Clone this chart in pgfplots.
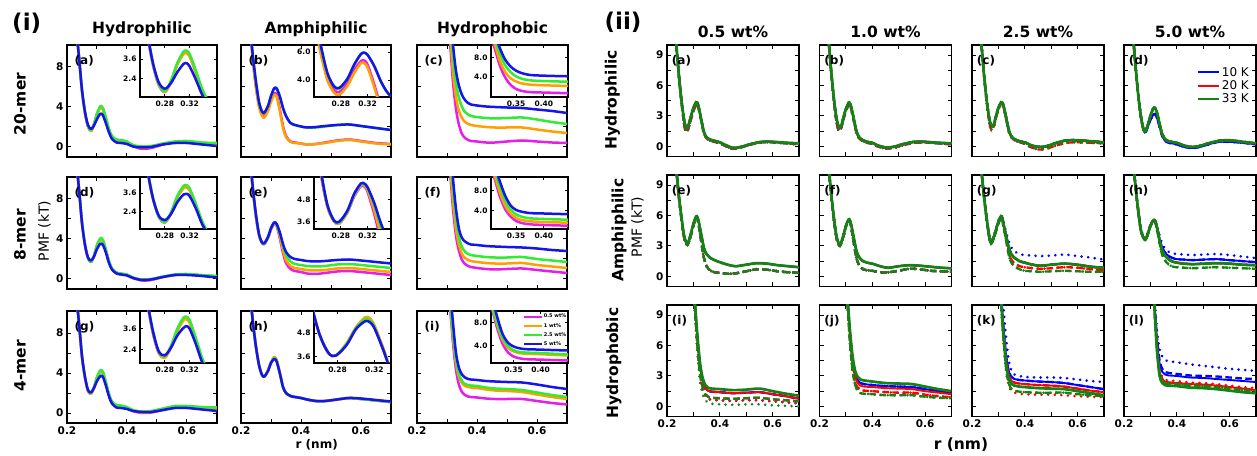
\documentclass[border=0pt]{standalone}
\usepackage{fontspec}
\setmainfont{DejaVu Sans}
\usepackage{pgfplots}
\usepackage{pgfplotstable}
\pgfplotsset{compat=1.18}

\definecolor{iMag}{RGB}{230,30,230}
\definecolor{iOra}{RGB}{255,160,0}
\definecolor{iGre}{RGB}{50,235,50}
\definecolor{iBlu}{RGB}{20,20,235}
\definecolor{colB}{RGB}{0,0,255}
\definecolor{colR}{RGB}{255,0,0}
\definecolor{colG}{RGB}{20,130,20}

\tikzset{plab/.style={anchor=north west, inner sep=0pt, font=\bfseries\fontsize{12}{13}\selectfont}}
\pgfplotsset{
  base/.style={scale only axis, anchor=north west, clip=true,
    xmin=0.2, xmax=0.7, xtick={0.2,0.3,0.4,0.5,0.6,0.7}, xticklabels={}, yticklabels={},
    axis line style={line width=1.5pt}, every tick/.style={black,line width=1pt},
    major tick length=4pt, tick align=inside,
    tick label style={font=\bfseries\fontsize{10.5}{11}\selectfont}},
  pA/.style={base, width=150pt, height=112pt, ymin=-1, ymax=10.2, ytick={0,2,4,6,8}},
  pB/.style={base, width=132pt, height=111.5pt, ymin=-1, ymax=10, ytick={0,1.5,3,4.5,6,7.5,9}},
  bot/.style={xticklabels={0.2,,0.4,,0.6,}},
  inset/.style={scale only axis, anchor=north east, width=77pt, height=52pt, clip=true,
    axis background/.style={fill=white}, axis line style={line width=1.3pt},
    every tick/.style={black,line width=0.8pt}, major tick length=3pt, tick align=inside,
    tick label style={font=\bfseries\fontsize{7.5}{8}\selectfont},
    xtick={0.28,0.32}, xticklabels={0.28,0.32}},
  hbin/.style={inset, xtick={0.35,0.40}, xticklabels={0.35,0.40}, ytick={4,8}, yticklabels={4.0,8.0}},
  iline/.style={line width=2.5pt, smooth, tension=0.5, line join=round},
  dotl/.style={line width=2.8pt, dash pattern=on 0.1pt off 6.5pt, line cap=round, smooth, tension=0.5},
  dshl/.style={line width=2.3pt, dash pattern=on 6.5pt off 3.5pt, smooth, tension=0.5},
  sw-colB/.style={line width=1.9pt, smooth, tension=0.5},
  sw-colR/.style={line width=1.9pt, smooth, tension=0.5},
  sw-colG/.style={line width=2.7pt, smooth, tension=0.5},
}

\newcommand{\fourc}[1]{%
  \addplot[iMag,iline] table[x=r,y=m]{#1};
  \addplot[iOra,iline] table[x=r,y=o]{#1};
  \addplot[iGre,iline] table[x=r,y=g]{#1};
  \addplot[iBlu,iline] table[x=r,y=b]{#1};}
% colour, table, dotted col, dashed col, solid col
\newcommand{\trio}[5]{%
  \addplot[#1,dotl] table[x=r,y=#3]{#2};
  \addplot[#1,dshl] table[x=r,y=#4]{#2};
  \addplot[#1,sw-#1] table[x=r,y=#5]{#2};}

% ---------- part (i) ----------
\pgfplotstableread{
r m o g b
0.230 12 12 12 12
0.240 9.0 9.0 9.0 9.0
0.250 5.6 5.6 5.7 5.7
0.260 3.4 3.4 3.5 3.5
0.270 2.05 2.05 2.1 2.2
0.280 1.6 1.6 1.65 1.8
0.290 2.25 2.2 2.3 2.15
0.300 3.3 3.25 3.35 2.8
0.310 3.95 3.9 4.05 3.3
0.315 4.0 3.95 4.1 3.35
0.320 3.8 3.75 3.9 3.15
0.330 2.8 2.75 2.9 2.35
0.340 1.7 1.65 1.8 1.45
0.350 1.0 1.0 1.1 0.8
0.365 0.65 0.65 0.75 0.45
0.380 0.6 0.6 0.7 0.4
0.400 0.45 0.45 0.55 0.3
0.420 0.1 0.15 0.2 0.05
0.450 -0.2 -0.1 0.05 -0.05
0.480 -0.1 0.0 0.1 0.0
0.520 0.25 0.3 0.35 0.25
0.560 0.5 0.5 0.55 0.4
0.600 0.55 0.5 0.6 0.4
0.650 0.4 0.4 0.45 0.25
0.700 0.3 0.3 0.4 0.1
}\tHa
\pgfplotstableread{
r m o g b
0.230 12 12 12 12
0.240 9.0 9.0 9.0 9.0
0.250 5.6 5.6 5.7 5.6
0.260 3.4 3.4 3.45 3.4
0.270 2.1 2.1 2.1 2.15
0.280 1.7 1.7 1.7 1.85
0.290 2.3 2.3 2.35 2.25
0.300 3.35 3.3 3.4 3.0
0.310 3.95 3.9 4.05 3.5
0.315 4.0 3.95 4.1 3.55
0.320 3.8 3.75 3.9 3.4
0.330 2.8 2.8 2.9 2.6
0.340 1.7 1.7 1.8 1.6
0.350 1.0 1.0 1.05 0.95
0.365 0.6 0.6 0.65 0.55
0.380 0.5 0.5 0.55 0.45
0.400 0.4 0.4 0.45 0.35
0.420 0.1 0.1 0.15 0.1
0.450 -0.15 -0.1 -0.05 -0.1
0.480 -0.1 -0.05 0.0 -0.05
0.520 0.2 0.2 0.25 0.2
0.560 0.4 0.4 0.45 0.4
0.600 0.45 0.45 0.5 0.4
0.650 0.35 0.35 0.4 0.3
0.700 0.25 0.25 0.3 0.15
}\tHd
\pgfplotstableread{
r m o g b
0.230 12 12 12 12
0.240 9.0 9.0 9.0 9.0
0.250 5.6 5.6 5.7 5.7
0.260 3.5 3.5 3.6 3.6
0.270 2.2 2.2 2.25 2.3
0.280 1.95 1.9 2.0 2.05
0.290 2.55 2.5 2.6 2.5
0.300 3.5 3.45 3.6 3.2
0.310 4.15 4.1 4.25 3.65
0.315 4.25 4.15 4.3 3.75
0.320 4.05 3.95 4.1 3.6
0.330 2.95 2.9 3.05 2.7
0.340 1.8 1.75 1.9 1.65
0.350 1.05 1.05 1.15 0.95
0.365 0.7 0.7 0.8 0.55
0.380 0.65 0.65 0.75 0.5
0.400 0.5 0.5 0.6 0.4
0.420 0.2 0.25 0.3 0.2
0.450 0.0 0.05 0.15 0.1
0.480 0.05 0.1 0.2 0.1
0.520 0.3 0.35 0.45 0.3
0.560 0.55 0.6 0.7 0.5
0.600 0.6 0.6 0.7 0.5
0.650 0.5 0.5 0.6 0.35
0.700 0.4 0.45 0.55 0.2
}\tHg
\pgfplotstableread{
r m o g b
0.230 12 12 12 12
0.240 8.6 8.5 9.0 9.0
0.250 6.0 5.9 6.5 6.5
0.260 4.2 4.0 4.5 4.5
0.270 3.3 3.1 3.55 3.55
0.278 3.15 2.95 3.4 3.45
0.290 3.8 3.6 4.1 4.1
0.300 4.7 4.5 5.1 5.1
0.310 5.35 5.2 5.85 5.85
0.315 5.4 5.2 5.95 5.95
0.320 5.1 4.9 5.8 5.8
0.330 3.7 3.5 5.0 5.0
0.340 2.1 1.9 3.9 3.9
0.350 1.1 1.0 3.1 3.1
0.365 0.55 0.5 2.4 2.4
0.380 0.45 0.4 2.2 2.2
0.400 0.35 0.35 2.05 2.05
0.420 0.25 0.25 1.95 1.95
0.450 0.3 0.3 1.95 2.0
0.480 0.45 0.4 2.05 2.1
0.520 0.65 0.6 2.2 2.2
0.560 0.75 0.7 2.25 2.25
0.600 0.6 0.55 2.1 2.1
0.650 0.4 0.35 1.9 1.9
0.700 0.3 0.25 1.7 1.7
}\tAb
\pgfplotstableread{
r m o g b
0.230 12 12 12 12
0.240 8.8 8.8 9.0 9.0
0.250 6.2 6.2 6.4 6.4
0.260 4.4 4.4 4.5 4.5
0.270 3.6 3.6 3.65 3.65
0.278 3.5 3.5 3.55 3.6
0.290 4.1 4.1 4.15 4.2
0.300 4.95 5.0 5.05 5.1
0.310 5.5 5.55 5.6 5.65
0.315 5.5 5.55 5.6 5.65
0.320 5.2 5.3 5.4 5.45
0.330 4.0 4.2 4.5 4.6
0.340 2.6 2.9 3.3 3.5
0.350 1.6 1.9 2.4 2.7
0.365 1.0 1.3 1.75 2.2
0.380 0.8 1.1 1.5 2.0
0.400 0.7 1.0 1.4 1.9
0.420 0.55 0.9 1.3 1.8
0.450 0.5 0.85 1.25 1.75
0.480 0.6 0.9 1.3 1.8
0.520 0.75 1.05 1.45 1.9
0.560 0.8 1.1 1.5 1.95
0.600 0.7 1.0 1.4 1.85
0.650 0.55 0.85 1.25 1.7
0.700 0.4 0.7 1.1 1.55
}\tAe
\pgfplotstableread{
r m o g b
0.230 12 12 12 12
0.240 9.0 9.0 9.0 9.0
0.250 6.6 6.6 6.6 6.6
0.260 4.8 4.8 4.8 4.8
0.270 3.8 3.8 3.8 3.8
0.278 3.65 3.65 3.65 3.65
0.290 4.25 4.3 4.25 4.2
0.300 5.05 5.1 5.05 5.0
0.310 5.5 5.6 5.5 5.4
0.315 5.45 5.55 5.45 5.35
0.320 5.1 5.2 5.1 5.05
0.330 3.9 4.0 3.9 3.9
0.340 2.6 2.65 2.6 2.6
0.350 2.0 2.0 2.0 2.0
0.365 1.7 1.7 1.7 1.7
0.380 1.6 1.6 1.6 1.6
0.400 1.5 1.5 1.5 1.5
0.420 1.35 1.35 1.35 1.35
0.450 1.2 1.2 1.2 1.2
0.480 1.2 1.2 1.2 1.2
0.520 1.35 1.35 1.35 1.35
0.560 1.5 1.5 1.5 1.5
0.600 1.4 1.4 1.4 1.45
0.650 1.25 1.25 1.25 1.3
0.700 1.1 1.1 1.1 1.15
}\tAh
\pgfplotstableread{
r m o g b
0.300 14 15 16 17
0.310 10.5 11.5 12.5 13.5
0.320 6.5 7.5 9.0 10.2
0.330 3.8 5.0 6.4 7.6
0.340 2.2 3.6 4.9 6.1
0.350 1.3 2.9 4.0 5.2
0.360 0.9 2.5 3.5 4.7
0.370 0.7 2.3 3.25 4.4
0.380 0.6 2.2 3.1 4.25
0.400 0.55 2.1 3.0 4.15
0.430 0.45 2.0 2.9 4.05
0.460 0.45 1.95 2.85 4.0
0.500 0.55 1.95 2.9 3.95
0.550 0.65 1.95 2.95 3.9
0.600 0.55 1.75 2.75 3.75
0.650 0.45 1.55 2.5 3.6
0.700 0.4 1.4 2.3 3.4
}\tBc
\pgfplotstableread{
r m o g b
0.300 14 15 16 17
0.310 10.8 11.5 12.5 13.5
0.320 7.0 7.8 9.0 10.0
0.330 4.3 5.0 6.0 7.0
0.340 2.8 3.4 4.2 5.0
0.350 1.9 2.5 3.2 4.1
0.360 1.5 2.1 2.75 3.75
0.370 1.3 1.9 2.5 3.55
0.380 1.2 1.8 2.4 3.45
0.400 1.1 1.7 2.3 3.4
0.430 1.0 1.6 2.2 3.3
0.460 0.95 1.55 2.15 3.25
0.500 1.0 1.55 2.15 3.2
0.550 1.05 1.6 2.2 3.15
0.600 0.9 1.4 2.0 3.05
0.650 0.75 1.25 1.85 2.9
0.700 0.6 1.1 1.7 2.8
}\tBf
\pgfplotstableread{
r m o g b
0.300 14 15 15 16
0.310 10.6 11.0 11.3 12.5
0.320 7.0 7.6 7.9 9.0
0.330 4.3 5.0 5.3 6.0
0.340 2.8 3.6 3.9 4.5
0.350 2.1 3.0 3.2 3.85
0.360 1.8 2.7 2.9 3.55
0.370 1.65 2.6 2.8 3.4
0.380 1.6 2.55 2.75 3.35
0.400 1.55 2.5 2.7 3.3
0.430 1.45 2.35 2.55 3.2
0.460 1.4 2.25 2.45 3.15
0.500 1.4 2.2 2.4 3.1
0.550 1.4 2.1 2.3 3.05
0.600 1.2 1.85 2.05 2.85
0.650 1.0 1.6 1.8 2.6
0.700 0.85 1.4 1.6 2.4
}\tBi

% ---------- part (ii) ----------
\pgfplotstableread{
r p q
0.225 12 12
0.235 10.0 10.0
0.245 7.0 7.0
0.255 4.5 4.3
0.265 2.6 2.2
0.272 1.9 1.4
0.280 2.0 1.7
0.290 2.9 2.6
0.300 3.8 3.5
0.310 4.35 4.1
0.315 4.3 4.05
0.320 3.9 3.7
0.330 2.6 2.5
0.340 1.4 1.3
0.350 0.9 0.8
0.365 0.65 0.55
0.380 0.55 0.45
0.400 0.4 0.3
0.420 0.15 0.05
0.450 -0.15 -0.25
0.480 -0.05 -0.1
0.520 0.25 0.2
0.560 0.45 0.4
0.600 0.45 0.4
0.650 0.35 0.3
0.700 0.3 0.2
}\tIa
\pgfplotstableread{
r p q
0.225 12 12
0.235 10.2 10.2
0.245 7.2 7.1
0.255 4.6 4.4
0.265 2.7 2.3
0.274 1.9 1.5
0.282 2.0 1.8
0.290 2.8 2.6
0.300 3.7 3.5
0.310 4.3 4.1
0.315 4.25 4.05
0.320 3.9 3.7
0.330 2.7 2.5
0.340 1.5 1.35
0.350 0.9 0.8
0.365 0.6 0.5
0.380 0.45 0.35
0.400 0.35 0.25
0.420 0.1 0.0
0.450 -0.1 -0.2
0.480 -0.05 -0.15
0.520 0.25 0.15
0.560 0.45 0.35
0.600 0.45 0.4
0.650 0.35 0.3
0.700 0.3 0.2
}\tIb
\pgfplotstableread{
r p q
0.225 12 12
0.235 10.2 10.2
0.245 7.2 7.1
0.255 4.7 4.5
0.265 2.8 2.4
0.274 2.0 1.6
0.282 2.1 1.9
0.290 2.9 2.7
0.300 3.8 3.6
0.310 4.35 4.2
0.315 4.3 4.15
0.320 3.95 3.8
0.330 2.75 2.6
0.340 1.55 1.4
0.350 0.95 0.85
0.365 0.65 0.55
0.380 0.5 0.4
0.400 0.4 0.25
0.420 0.15 -0.05
0.450 -0.05 -0.3
0.480 0.0 -0.25
0.520 0.35 0.1
0.560 0.6 0.35
0.600 0.6 0.4
0.650 0.5 0.35
0.700 0.4 0.3
}\tIc
\pgfplotstableread{
r g b
0.225 12 12
0.235 10.5 10.5
0.245 7.5 7.5
0.255 4.8 4.8
0.265 2.8 2.7
0.275 1.6 1.5
0.282 1.5 1.4
0.290 2.1 1.9
0.300 3.0 2.6
0.310 3.7 3.1
0.317 3.8 3.2
0.325 3.3 2.8
0.335 2.2 1.9
0.345 1.2 1.0
0.360 0.6 0.45
0.380 0.45 0.3
0.400 0.35 0.2
0.420 0.15 0.0
0.450 -0.05 -0.15
0.480 0.0 -0.1
0.520 0.3 0.2
0.560 0.55 0.45
0.600 0.6 0.45
0.650 0.45 0.35
0.700 0.3 0.2
}\tId
\pgfplotstableread{
r u l
0.225 12 12
0.235 10.5 10.5
0.245 8.0 7.8
0.255 5.8 5.6
0.265 4.0 3.8
0.277 3.2 3.1
0.290 4.2 4.0
0.300 5.2 5.0
0.310 5.9 5.8
0.315 5.85 5.7
0.320 5.4 5.1
0.330 4.1 3.4
0.340 2.8 1.8
0.350 2.2 1.0
0.365 1.8 0.55
0.380 1.6 0.4
0.400 1.4 0.35
0.430 1.15 0.25
0.460 1.0 0.3
0.500 1.15 0.5
0.540 1.3 0.7
0.580 1.25 0.65
0.620 1.1 0.5
0.660 1.0 0.4
0.700 0.9 0.35
}\tIe
\pgfplotstableread{
r u l
0.225 12 12
0.235 10.5 10.5
0.245 8.0 7.8
0.255 5.7 5.5
0.265 3.9 3.7
0.277 3.1 3.0
0.290 4.0 3.9
0.300 5.0 4.9
0.310 5.6 5.5
0.315 5.55 5.45
0.320 5.1 4.9
0.330 3.8 3.3
0.340 2.5 1.8
0.350 1.9 1.1
0.365 1.5 0.7
0.380 1.35 0.6
0.400 1.25 0.55
0.430 1.0 0.4
0.460 0.85 0.4
0.500 1.0 0.55
0.540 1.1 0.75
0.580 1.05 0.7
0.620 0.95 0.55
0.660 0.85 0.5
0.700 0.8 0.45
}\tIf
\pgfplotstableread{
r d s m w
0.225 12 12 12 12
0.235 10.5 10.5 10.5 10.5
0.245 8.0 8.0 8.0 8.0
0.255 5.8 5.8 5.8 5.7
0.265 4.0 4.0 3.9 3.8
0.272 3.35 3.3 3.25 3.2
0.285 4.2 4.1 4.0 3.9
0.300 5.5 5.4 5.3 5.2
0.310 6.0 5.95 5.85 5.7
0.315 5.8 5.75 5.6 5.5
0.320 5.3 5.1 4.9 4.8
0.330 4.3 3.9 3.6 3.4
0.340 3.4 2.8 2.4 2.0
0.350 2.8 2.15 1.6 1.3
0.365 2.4 1.75 1.2 0.9
0.380 2.2 1.5 1.0 0.7
0.400 2.1 1.35 0.9 0.55
0.430 2.05 1.15 0.8 0.5
0.460 2.0 1.05 0.75 0.45
0.500 2.05 1.15 0.8 0.5
0.550 2.15 1.25 0.9 0.55
0.600 2.0 1.15 0.85 0.5
0.650 1.85 0.95 0.7 0.45
0.700 1.65 0.85 0.65 0.45
}\tIg
\pgfplotstableread{
r d e s w
0.225 12 12 12 12
0.235 11 11 11 11
0.245 8.5 8.5 8.5 8.5
0.255 6.3 6.3 6.2 6.2
0.265 4.6 4.5 4.4 4.4
0.280 3.65 3.6 3.6 3.55
0.290 4.3 4.2 4.2 4.1
0.300 5.1 5.0 5.0 4.9
0.310 5.55 5.5 5.5 5.4
0.317 5.6 5.55 5.5 5.4
0.325 5.0 4.9 4.8 4.6
0.335 4.0 3.7 3.5 3.2
0.345 3.2 2.8 2.5 2.1
0.360 2.6 2.2 1.9 1.4
0.380 2.3 1.85 1.5 1.0
0.400 2.2 1.7 1.35 0.9
0.430 2.15 1.65 1.25 0.85
0.460 2.1 1.6 1.2 0.8
0.500 2.15 1.65 1.25 0.85
0.550 2.2 1.7 1.3 0.9
0.600 2.1 1.6 1.25 0.85
0.650 1.95 1.5 1.15 0.8
0.700 1.8 1.4 1.1 0.75
}\tIh
\pgfplotstableread{
r G B R D L
0.295 14 14 14 14 14
0.305 10.5 10.3 10.0 9.8 9.6
0.315 7.0 6.8 6.0 5.8 5.6
0.325 4.3 4.0 3.2 2.8 2.5
0.335 2.8 2.5 1.9 1.6 1.2
0.345 2.1 1.8 1.2 1.0 0.6
0.355 1.85 1.55 0.95 0.75 0.35
0.370 1.75 1.45 0.85 0.65 0.25
0.400 1.7 1.4 0.8 0.6 0.2
0.450 1.6 1.3 0.75 0.55 0.15
0.500 1.65 1.35 0.8 0.6 0.2
0.550 1.75 1.4 0.85 0.6 0.2
0.600 1.5 1.2 0.7 0.5 0.1
0.650 1.25 1.0 0.6 0.4 0.05
0.700 1.05 0.75 0.5 0.3 0.0
}\tIi
\pgfplotstableread{
r G B R E L
0.295 14 14 14 14 14
0.305 11.0 11.0 10.8 10.5 10.5
0.315 7.6 7.4 7.0 6.6 6.4
0.325 5.0 4.7 4.3 3.8 3.5
0.335 3.5 3.2 2.9 2.4 2.1
0.345 2.9 2.55 2.3 1.85 1.55
0.355 2.65 2.3 2.05 1.6 1.3
0.370 2.55 2.2 1.95 1.55 1.25
0.400 2.45 2.1 1.9 1.5 1.2
0.450 2.3 2.0 1.8 1.4 1.1
0.500 2.25 1.95 1.75 1.35 1.1
0.550 2.2 1.9 1.7 1.35 1.1
0.600 1.95 1.7 1.5 1.15 0.95
0.650 1.7 1.5 1.35 1.0 0.85
0.700 1.5 1.3 1.2 0.9 0.8
}\tIj
\pgfplotstableread{
r D B R G W Q
0.300 14 14 14 14 14 14
0.310 12.5 11.0 10.5 10.5 10.2 10.0
0.320 9.5 7.5 7.0 6.8 6.4 6.2
0.330 6.5 4.8 4.3 4.0 3.5 3.3
0.340 4.4 3.4 3.0 2.7 2.2 2.0
0.350 3.5 2.9 2.5 2.2 1.7 1.5
0.360 3.15 2.7 2.35 2.05 1.55 1.35
0.380 3.0 2.6 2.25 1.95 1.45 1.25
0.400 2.9 2.55 2.2 1.9 1.4 1.2
0.450 2.85 2.45 2.1 1.8 1.35 1.15
0.500 2.85 2.4 2.05 1.75 1.35 1.15
0.550 2.8 2.3 1.95 1.7 1.35 1.1
0.600 2.65 2.1 1.75 1.5 1.2 1.0
0.650 2.5 1.9 1.55 1.3 1.1 0.95
0.700 2.4 1.7 1.4 1.1 1.0 0.9
}\tIk
\pgfplotstableread{
r D E B Q R W G
0.305 14 14 14 14 14 14 14
0.315 11.0 10.5 10.3 10.0 10.0 9.8 9.8
0.325 7.5 6.8 6.5 6.0 5.9 5.7 5.5
0.335 5.6 4.5 4.2 3.6 3.4 3.2 3.0
0.345 4.9 3.7 3.4 2.9 2.7 2.5 2.3
0.355 4.6 3.4 3.15 2.65 2.45 2.3 2.1
0.370 4.45 3.3 3.05 2.55 2.35 2.25 2.05
0.400 4.35 3.2 3.0 2.5 2.3 2.2 2.0
0.450 4.15 3.05 2.85 2.35 2.2 2.05 1.85
0.500 4.0 3.0 2.8 2.3 2.15 2.0 1.8
0.550 3.85 2.95 2.7 2.2 2.05 1.9 1.7
0.600 3.7 2.85 2.6 2.05 1.9 1.75 1.55
0.650 3.6 2.75 2.5 1.9 1.75 1.6 1.4
0.700 3.5 2.7 2.4 1.8 1.6 1.5 1.3
}\tIl

\begin{document}
\begin{tikzpicture}
\useasboundingbox (0,0) rectangle (1257pt,455pt);

% ===== part (i): main panels =====
\begin{axis}[pA, at={(67pt,410pt)}, yticklabels={0,,4,,8}]
\fourc{\tHa}
\node[plab] at (rel axis cs:0.05,0.91) {(a)};
\end{axis}
\begin{axis}[pA, at={(241pt,410pt)}]
\fourc{\tAb}
\node[plab] at (rel axis cs:0.05,0.91) {(b)};
\end{axis}
\begin{axis}[pA, at={(417pt,410pt)}]
\fourc{\tBc}
\node[plab] at (rel axis cs:0.05,0.91) {(c)};
\end{axis}
\begin{axis}[pA, at={(67pt,278pt)}, yticklabels={0,,4,,8}]
\fourc{\tHd}
\node[plab] at (rel axis cs:0.05,0.91) {(d)};
\end{axis}
\begin{axis}[pA, at={(241pt,278pt)}]
\fourc{\tAe}
\node[plab] at (rel axis cs:0.05,0.91) {(e)};
\end{axis}
\begin{axis}[pA, at={(417pt,278pt)}]
\fourc{\tBf}
\node[plab] at (rel axis cs:0.05,0.91) {(f)};
\end{axis}
\begin{axis}[pA, bot, at={(67pt,144pt)}, yticklabels={0,,4,,8}]
\fourc{\tHg}
\node[plab] at (rel axis cs:0.05,0.91) {(g)};
\end{axis}
\begin{axis}[pA, bot, at={(241pt,144pt)}]
\fourc{\tAh}
\node[plab] at (rel axis cs:0.05,0.91) {(h)};
\end{axis}
\begin{axis}[pA, bot, at={(417pt,144pt)}]
\fourc{\tBi}
\node[plab] at (rel axis cs:0.05,0.91) {(i)};
\end{axis}

% ===== part (i): insets =====
\begin{axis}[inset, at={(217pt,410pt)}, xmin=0.24, xmax=0.364, ymin=1.3, ymax=4.45, ytick={2.4,3.6}, yticklabels={2.4,3.6}]
\fourc{\tHa}
\end{axis}
\begin{axis}[inset, at={(391pt,410pt)}, xmin=0.24, xmax=0.355, ymin=2.8, ymax=6.5, ytick={4,6}, yticklabels={4.0,6.0}]
\fourc{\tAb}
\end{axis}
\begin{axis}[hbin, at={(568pt,410pt)}, xmin=0.3046, xmax=0.4436, ymin=-0.4, ymax=10.7]
\fourc{\tBc}
\end{axis}
\begin{axis}[inset, at={(217pt,278pt)}, xmin=0.24, xmax=0.364, ymin=1.28, ymax=4.63, ytick={2.4,3.6}, yticklabels={2.4,3.6}]
\fourc{\tHd}
\end{axis}
\begin{axis}[inset, at={(391pt,278pt)}, xmin=0.24, xmax=0.355, ymin=3.2, ymax=6.0, ytick={3.6,4.8}, yticklabels={3.6,4.8}]
\fourc{\tAe}
\end{axis}
\begin{axis}[hbin, at={(568pt,278pt)}, xmin=0.3046, xmax=0.4436, ymin=0.3, ymax=10.7]
\fourc{\tBf}
\end{axis}
\begin{axis}[inset, at={(217pt,144pt)}, xmin=0.24, xmax=0.364, ymin=1.6, ymax=4.64, ytick={2.4,3.6}, yticklabels={2.4,3.6}]
\fourc{\tHg}
\end{axis}
\begin{axis}[inset, at={(391pt,144pt)}, xmin=0.2545, xmax=0.338, ymin=3.28, ymax=5.92, ytick={3.6,4.8}, yticklabels={3.6,4.8}]
\fourc{\tAh}
\end{axis}
\begin{axis}[hbin, at={(568pt,144pt)}, xmin=0.3085, xmax=0.4505, ymin=0.96, ymax=10.06,
  legend style={draw=none, fill=none, at={(0.995,0.96)}, anchor=north east,
    font=\bfseries\fontsize{5}{5}\selectfont, inner sep=0pt, row sep=1.8pt,
    nodes={inner sep=1pt}},
  legend cell align=left,
  legend image code/.code={\draw[#1, line width=2pt] (0pt,0pt) -- (18pt,0pt);}]
\fourc{\tBi}
\legend{0.5 wt\%,1 wt\%,2.5 wt\%,5 wt\%}
\end{axis}

% ===== part (ii) =====
\begin{axis}[pB, at={(667pt,410pt)}, yticklabels={0,,3,,6,,9}]
\trio{colB}{\tIa}{q}{q}{p}\trio{colR}{\tIa}{p}{q}{p}\trio{colG}{\tIa}{q}{p}{p}
\node[plab] at (rel axis cs:0.036,0.91) {(a)};
\end{axis}
\begin{axis}[pB, at={(819.5pt,410pt)}]
\trio{colB}{\tIb}{q}{q}{p}\trio{colR}{\tIb}{p}{q}{p}\trio{colG}{\tIb}{q}{p}{p}
\node[plab] at (rel axis cs:0.036,0.91) {(b)};
\end{axis}
\begin{axis}[pB, at={(972pt,410pt)}]
\trio{colB}{\tIc}{q}{p}{p}\trio{colR}{\tIc}{p}{q}{p}\trio{colG}{\tIc}{q}{p}{p}
\node[plab] at (rel axis cs:0.036,0.91) {(c)};
\end{axis}
\begin{axis}[pB, at={(1124pt,410pt)},
  legend style={draw=none, fill=none, at={(0.97,0.83)}, anchor=north east,
    font=\fontsize{12}{12}\selectfont, inner sep=1pt, row sep=-1pt},
  legend image code/.code={\draw[#1] (0pt,0pt) -- (21pt,0pt);}]
\addlegendimage{colB,line width=2.2pt}
\addlegendimage{colR,line width=2.2pt}
\addlegendimage{colG,line width=2.2pt}
\trio{colB}{\tId}{b}{b}{b}\trio{colR}{\tId}{g}{g}{g}\trio{colG}{\tId}{g}{g}{g}
\node[plab] at (rel axis cs:0.036,0.91) {(d)};
\legend{10 K,20 K,33 K}
\end{axis}

\begin{axis}[pB, at={(667pt,280pt)}, yticklabels={0,,3,,6,,9}]
\trio{colB}{\tIe}{l}{l}{u}\trio{colR}{\tIe}{l}{l}{u}\trio{colG}{\tIe}{l}{l}{u}
\node[plab] at (rel axis cs:0.036,0.91) {(e)};
\end{axis}
\begin{axis}[pB, at={(819.5pt,280pt)}]
\trio{colB}{\tIf}{l}{l}{u}\trio{colR}{\tIf}{l}{l}{u}\trio{colG}{\tIf}{l}{l}{u}
\node[plab] at (rel axis cs:0.036,0.91) {(f)};
\end{axis}
\begin{axis}[pB, at={(972pt,280pt)}]
\trio{colB}{\tIg}{d}{s}{s}\trio{colR}{\tIg}{m}{m}{s}\trio{colG}{\tIg}{w}{w}{s}
\node[plab] at (rel axis cs:0.036,0.91) {(g)};
\end{axis}
\begin{axis}[pB, at={(1124pt,280pt)}]
\trio{colB}{\tIh}{d}{e}{e}\trio{colR}{\tIh}{s}{s}{s}\trio{colG}{\tIh}{w}{w}{s}
\node[plab] at (rel axis cs:0.036,0.91) {(h)};
\end{axis}

\begin{axis}[pB, bot, at={(667pt,150pt)}, yticklabels={0,,3,,6,,9}]
\trio{colB}{\tIi}{D}{B}{B}\trio{colR}{\tIi}{D}{R}{B}\trio{colG}{\tIi}{L}{R}{G}
\node[plab] at (rel axis cs:0.036,0.91) {(i)};
\end{axis}
\begin{axis}[pB, bot, at={(819.5pt,150pt)}]
\trio{colB}{\tIj}{B}{B}{B}\trio{colR}{\tIj}{E}{E}{R}\trio{colG}{\tIj}{L}{L}{G}
\node[plab] at (rel axis cs:0.036,0.91) {(j)};
\end{axis}
\begin{axis}[pB, bot, at={(972pt,150pt)}]
\trio{colB}{\tIk}{D}{B}{B}\trio{colR}{\tIk}{Q}{R}{R}\trio{colG}{\tIk}{W}{W}{G}
\node[plab] at (rel axis cs:0.036,0.91) {(k)};
\end{axis}
\begin{axis}[pB, bot, at={(1124pt,150pt)}]
\trio{colB}{\tIl}{D}{E}{B}\trio{colR}{\tIl}{Q}{R}{R}\trio{colG}{\tIl}{W}{W}{G}
\node[plab] at (rel axis cs:0.036,0.91) {(l)};
\end{axis}

% ===== text =====
\begin{scope}[every node/.style={font=\bfseries\fontsize{15.5}{17}\selectfont}]
\node at (142pt,426pt) {Hydrophilic};
\node at (316pt,426pt) {Amphiphilic};
\node at (492.5pt,426pt) {Hydrophobic};
\node at (733pt,423.3pt) {0.5 wt\%};
\node at (885.5pt,423.3pt) {1.0 wt\%};
\node at (1038pt,423.3pt) {2.5 wt\%};
\node at (1190pt,423.3pt) {5.0 wt\%};
\node[rotate=90] at (20pt,351pt) {20-mer};
\node[rotate=90] at (20pt,220pt) {8-mer};
\node[rotate=90] at (20pt,89pt) {4-mer};
\node[rotate=90] at (612.5pt,355pt) {Hydrophilic};
\node[rotate=90] at (619pt,225pt) {Amphiphilic};
\node[rotate=90] at (614pt,92pt) {Hydrophobic};
\end{scope}
\node[font=\bfseries\fontsize{23}{25}\selectfont] at (26.7pt,431.7pt) {(i)};
\node[font=\bfseries\fontsize{23}{25}\selectfont] at (623pt,432.5pt) {(ii)};
\node[rotate=90, font=\fontsize{14}{15}\selectfont] at (44.5pt,224pt) {PMF (kT)};
\node[rotate=90, font=\fontsize{14}{15}\selectfont] at (637.5pt,228pt) {PMF (kT)};
\node[font=\bfseries\fontsize{12}{13}\selectfont] at (316.7pt,10pt) {r (nm)};
\node[font=\bfseries\fontsize{15.5}{17}\selectfont] at (961pt,10pt) {r (nm)};
\end{tikzpicture}
\end{document}
